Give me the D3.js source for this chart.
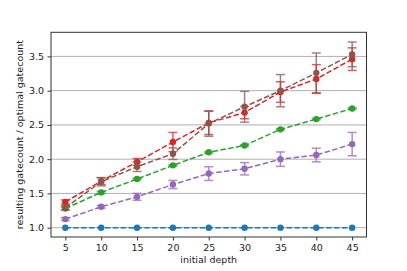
<!DOCTYPE html>
<html lang="en">
<head>
<meta charset="utf-8">
<title>gatecount</title>
<script src="https://cdn.jsdelivr.net/npm/d3@7"></script>
<style>
  body { margin: 0; background: #fff; }
  text { font-family: "DejaVu Sans", sans-serif; fill: #222; }
</style>
</head>
<body>
<script>
var depths = [5, 10, 15, 20, 25, 30, 35, 40, 45]

var blueVals   = [1.0, 1.0, 1.0, 1.0, 1.0, 1.0, 1.0, 1.0, 1.0]
var blueErr    = [0, 0, 0, 0, 0, 0, 0, 0, 0]
var greenVals  = [1.28, 1.515, 1.71, 1.91, 2.10, 2.20, 2.435, 2.585, 2.74]
var greenErr   = [0.02, 0.015, 0.01, 0.01, 0.01, 0.01, 0.01, 0.01, 0.01]
var redVals    = [1.375, 1.68, 1.96, 2.25, 2.53, 2.68, 2.98, 3.17, 3.46]
var redErr     = [0.03, 0.05, 0.05, 0.14, 0.17, 0.09, 0.15, 0.21, 0.165]
var purpleVals = [1.125, 1.305, 1.45, 1.63, 1.79, 1.86, 2.0, 2.06, 2.22]
var purpleErr  = [0.02, 0.02, 0.05, 0.06, 0.1, 0.09, 0.105, 0.1, 0.17]
var brownVals  = [1.29, 1.67, 1.89, 2.08, 2.52, 2.765, 3.0, 3.26, 3.53]
var brownErr   = [0.03, 0.06, 0.07, 0.085, 0.185, 0.225, 0.235, 0.29, 0.18]

var yTicks = [1.0, 1.5, 2.0, 2.5, 3.0, 3.5]

var series = [
  {vals: blueVals, err: blueErr, color: "#1f77b4"},
  {vals: greenVals, err: greenErr, color: "#2ca02c"},
  {vals: redVals, err: redErr, color: "#d62728"},
  {vals: purpleVals, err: purpleErr, color: "#9467bd"},
  {vals: brownVals, err: brownErr, color: "#8c564b"}
]

var width = 407, height = 271
var mLeft = 51, mRight = 366.5, mTop = 32.3, mBottom = 237

var svg = d3.select("body").append("svg").attr("width", width).attr("height", height)

var x = d3.scaleLinear().domain([3, 47]).range([mLeft, mRight])
var y = d3.scaleLinear().domain([0.864, 3.852]).range([mBottom, mTop])

// grid lines (y only)
svg.append("g").selectAll("line").data(yTicks).enter().append("line")
  .attr("x1", mLeft).attr("x2", mRight)
  .attr("y1", function(d) { return y(d) }).attr("y2", function(d) { return y(d) })
  .attr("stroke", "#b0b0b0").attr("stroke-width", 1)

// axes
var xAxis = svg.append("g").attr("transform", "translate(0," + mBottom + ")")
  .call(d3.axisBottom(x).tickValues(depths).tickSize(3.5).tickPadding(3.5))
var yAxis = svg.append("g").attr("transform", "translate(" + mLeft + ",0)")
  .call(d3.axisLeft(y).tickValues(yTicks).tickFormat(d3.format(".1f")).tickSize(3.5).tickPadding(3.5))
;[xAxis, yAxis].forEach(function(a) {
  a.select(".domain").remove()
  a.selectAll("line").attr("stroke", "#333")
  a.selectAll("text").style("font-size", "9.5px").style("font-family", "DejaVu Sans, sans-serif").attr("fill", "#222")
})

svg.append("rect").attr("x", mLeft).attr("y", mTop)
  .attr("width", mRight - mLeft).attr("height", mBottom - mTop)
  .attr("fill", "none").attr("stroke", "#333").attr("stroke-width", 1)

// series
var line = d3.line().x(function(d, i) { return x(depths[i]) }).y(function(d) { return y(d) })

series.forEach(function(s) {
  var g = svg.append("g")
  g.append("path").datum(s.vals).attr("d", line)
    .attr("fill", "none").attr("stroke", s.color).attr("stroke-width", 1.5)
    .attr("stroke-dasharray", "5.5,2.4")
  var eb = g.append("g").attr("opacity", 0.75)
  s.vals.forEach(function(v, i) {
    var e = s.err[i]
    if (!e) return
    var cx = x(depths[i])
    eb.append("line").attr("x1", cx).attr("x2", cx)
      .attr("y1", y(v - e)).attr("y2", y(v + e))
      .attr("stroke", s.color).attr("stroke-width", 1.5)
    ;[v - e, v + e].forEach(function(c) {
      eb.append("line").attr("x1", cx - 4.5).attr("x2", cx + 4.5)
        .attr("y1", y(c)).attr("y2", y(c))
        .attr("stroke", s.color).attr("stroke-width", 1.5)
    })
  })
  g.selectAll("circle").data(s.vals).enter().append("circle")
    .attr("cx", function(d, i) { return x(depths[i]) })
    .attr("cy", function(d) { return y(d) })
    .attr("r", 3.2).attr("fill", s.color)
})

// labels
svg.append("text").attr("x", (mLeft + mRight) / 2).attr("y", 263)
  .attr("text-anchor", "middle").style("font-size", "9.5px").text("initial depth")
svg.append("text").attr("transform", "translate(23," + ((mTop + mBottom) / 2) + ") rotate(-90)")
  .attr("text-anchor", "middle").style("font-size", "9.5px")
  .text("resulting gatecount / optimal gatecount")
</script>
</body>
</html>
